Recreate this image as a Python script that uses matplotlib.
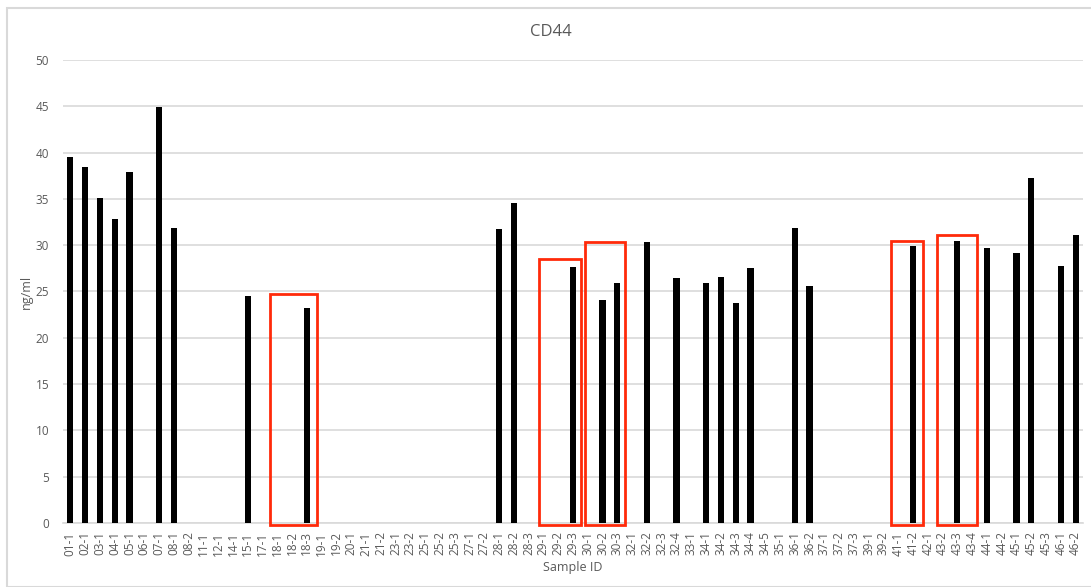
import matplotlib
matplotlib.use("Agg")
import matplotlib.pyplot as plt
from matplotlib.patches import Rectangle

plt.rcParams['font.family'] = ['Open Sans', 'DejaVu Sans']

samples = ["01-1", "02-1", "03-1", "04-1", "05-1", "06-1", "07-1", "08-1", "08-2",
           "11-1", "12-1", "14-1", "15-1", "17-1", "18-1", "18-2", "18-3", "19-1",
           "19-2", "20-1", "21-1", "21-2", "23-1", "23-2", "25-1", "25-2", "25-3",
           "27-1", "27-2", "28-1", "28-2", "28-3", "29-1", "29-2", "29-3", "30-1",
           "30-2", "30-3", "32-1", "32-2", "32-3", "32-4", "33-1", "34-1", "34-2",
           "34-3", "34-4", "34-5", "35-1", "36-1", "36-2", "37-1", "37-2", "37-3",
           "39-1", "39-2", "41-1", "41-2", "42-1", "43-2", "43-3", "43-4", "44-1",
           "44-2", "45-1", "45-2", "45-3", "46-1", "46-2"]

# measured CD44 concentrations (ng/ml); samples missing here were not detected
cd44 = {
    "01-1": 39.5, "02-1": 38.4, "03-1": 35.1, "04-1": 32.8, "05-1": 37.9,
    "07-1": 44.9, "08-1": 31.9, "15-1": 24.5, "18-3": 23.2,
    "28-1": 31.7, "28-2": 34.6, "29-3": 27.6, "30-2": 24.1, "30-3": 25.9,
    "32-2": 30.3, "32-4": 26.5, "34-1": 25.9, "34-2": 26.6, "34-3": 23.7,
    "34-4": 27.5, "36-1": 31.8, "36-2": 25.6, "41-2": 29.9, "43-3": 30.4,
    "44-1": 29.7, "45-1": 29.1, "45-2": 37.3, "46-1": 27.7, "46-2": 31.1,
}
values = [cd44.get(s, 0.0) for s in samples]

# outlines around the highlighted groups (18-x, 29-x, 30-x, 41-x, 43-x):
# (left, right, top) in category / ng/ml units
highlight_boxes = [(13.50, 16.69, 24.7), (31.73, 34.53, 28.5),
                   (34.82, 37.52, 30.3), (55.52, 57.70, 30.45),
                   (58.63, 61.34, 31.1)]

text_col = "#595959"
grid_col = "#d9d9d9"

fig = plt.figure(figsize=(10.91, 5.87), dpi=100)
ax = fig.add_axes([0.0577, 0.109, 0.935, 0.789])

x = list(range(len(samples)))
ax.bar(x, values, width=0.42, color="black", zorder=3)

ax.set_xlim(-0.5, len(samples) - 0.5)
ax.set_ylim(0, 50)
ax.set_yticks(range(0, 51, 5))
ax.yaxis.grid(True, color=grid_col, linewidth=1.2, zorder=0)
ax.set_xticks(x)
ax.set_xticklabels(samples, rotation=90, fontsize=8.5, color=text_col)
ax.tick_params(axis='y', labelsize=8.5, colors=text_col, length=0, pad=10)
ax.tick_params(axis='x', length=0, pad=6)
for side in ("left", "right", "top"):
    ax.spines[side].set_visible(False)
ax.spines["bottom"].set_color(grid_col)
ax.spines["bottom"].set_linewidth(1.2)

for (left, right, top) in highlight_boxes:
    ax.add_patch(Rectangle((left, -0.2), right - left, top + 0.2, fill=False,
                           edgecolor="#ff2a0a", linewidth=2, zorder=4,
                           clip_on=False))

fig.text(551 / 1091, 1 - 32 / 587, "CD44", fontsize=12, color=text_col,
         ha="center", va="center")
ax.set_ylabel("ng/ml", fontsize=9, color=text_col)
ax.yaxis.set_label_coords(-0.029, 0.5)
ax.set_xlabel("Sample ID", fontsize=9, color=text_col, labelpad=4)

# chart area frame
fig.patches.append(Rectangle((7 / 1091, 0), 1.0, 1 - 8 / 587,
                             transform=fig.transFigure, fill=False,
                             edgecolor="#d9d9d9", linewidth=1.5))

fig.savefig("out.png", dpi=100)
